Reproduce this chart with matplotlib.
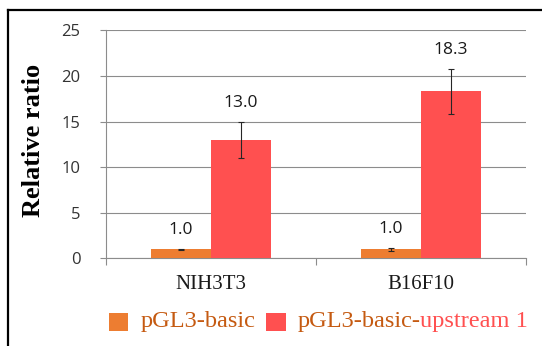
import matplotlib
matplotlib.use("Agg")
import matplotlib.pyplot as plt
import numpy as np
from matplotlib.lines import Line2D
from matplotlib.patches import Rectangle
from matplotlib.offsetbox import HPacker, TextArea, DrawingArea, AnchoredOffsetbox

categories = ["NIH3T3", "B16F10"]
basic = [1.0, 1.0]
basic_err = [0.05, 0.18]
upstream = [13.0, 18.3]
upstream_err = [2.0, 2.5]
value_labels_basic = ["1.0", "1.0"]
value_labels_up = ["13.0", "18.3"]
yticks = [0, 5, 10, 15, 20, 25]

c_orange = "#ED7D31"
c_red = "#FF5050"
c_text_orange = "#C55A11"
grid_c = "#8C8C8C"
num_font = "Open Sans"
serif = "Liberation Serif"

W, H = 542, 346
fig = plt.figure(figsize=(W / 100, H / 100), dpi=100)
ax = fig.add_axes([106 / W, 1 - 258.3 / H, 420 / W, 228 / H])

x = np.arange(len(categories))
bw = 0.286
ax.bar(x - bw / 2, basic, bw, color=c_orange, zorder=3)
ax.bar(x + bw / 2, upstream, bw, color=c_red, zorder=3)
ax.errorbar(x - bw / 2, basic, yerr=basic_err, fmt="none", ecolor="#262626",
            elinewidth=0.8, capsize=2.5, capthick=0.8, zorder=4)
ax.errorbar(x + bw / 2, upstream, yerr=upstream_err, fmt="none", ecolor="#262626",
            elinewidth=0.8, capsize=2.5, capthick=0.8, zorder=4)

for xi, v, e, lab in zip(x - bw / 2, basic, basic_err, value_labels_basic):
    ax.annotate(lab, (xi, v + e), xytext=(0, 7.5), textcoords="offset points",
                ha="center", va="bottom", fontsize=12.5, family=num_font, color="#1a1a1a")
for xi, v, e, lab in zip(x + bw / 2, upstream, upstream_err, value_labels_up):
    ax.annotate(lab, (xi, v + e), xytext=(0, 7.5), textcoords="offset points",
                ha="center", va="bottom", fontsize=12.5, family=num_font, color="#1a1a1a")

ax.set_xlim(-0.5, len(categories) - 0.5)
ax.set_ylim(0, 25)
ax.set_yticks(yticks)
ax.set_yticklabels([str(t) for t in yticks], family=num_font, fontsize=12, color="#333333")
ax.yaxis.grid(True, color=grid_c, lw=0.8, zorder=0)
ax.set_axisbelow(True)

ax.set_xticks(np.arange(len(categories) + 1) - 0.5)
ax.set_xticklabels([])
ax.set_xticks(x, minor=True)
ax.set_xticklabels(categories, minor=True, family=serif, fontsize=15, color="#1a1a1a")
ax.tick_params(axis="x", which="major", length=5, width=0.8, color=grid_c, direction="out")
ax.tick_params(axis="x", which="minor", length=0, pad=12)
ax.tick_params(axis="y", which="major", length=4.5, width=0.8, color=grid_c, pad=14)

for s in ["top", "right"]:
    ax.spines[s].set_visible(False)
ax.spines["left"].set_color(grid_c)
ax.spines["left"].set_linewidth(0.8)
ax.spines["bottom"].set_color(grid_c)
ax.spines["bottom"].set_linewidth(0.8)

ax.set_ylabel("Relative ratio", family=serif, fontweight="bold", fontsize=19, va="center")
ax.yaxis.set_label_coords((34 - 106) / 420, (258.3 - 140) / 228)

# legend
def swatch(color):
    da = DrawingArea(14, 13, 0, 0)
    da.add_artist(Rectangle((0, 0), 14, 13, fc=color, ec="none"))
    return da

tp = dict(family=serif, fontsize=17.6)
t1 = TextArea("pGL3-basic", textprops=dict(color=c_text_orange, **tp))
t2a = TextArea("pGL3-basic-", textprops=dict(color=c_text_orange, **tp))
t2b = TextArea("upstream 1", textprops=dict(color=c_red, **tp))
item1 = HPacker(children=[swatch(c_orange), t1], sep=8.5, align="center", pad=0)
item2 = HPacker(children=[swatch(c_red), HPacker(children=[t2a, t2b], sep=0, pad=0, align="baseline")],
                sep=8.5, align="center", pad=0)
leg = HPacker(children=[item1, item2], sep=8, align="center", pad=0)
anch = AnchoredOffsetbox(loc="center left", child=leg, pad=0, borderpad=0, frameon=False,
                         bbox_to_anchor=(109 / W, 1 - 322 / H), bbox_transform=fig.transFigure)
fig.add_artist(anch)

# border
fig.add_artist(Line2D([8 / W, 8 / W], [0, 1 - 9.5 / H], transform=fig.transFigure, color="black", lw=1.6))
fig.add_artist(Line2D([8 / W, 1], [1 - 9.5 / H, 1 - 9.5 / H], transform=fig.transFigure, color="black", lw=1.6))

fig.savefig("out.png", dpi=100)
